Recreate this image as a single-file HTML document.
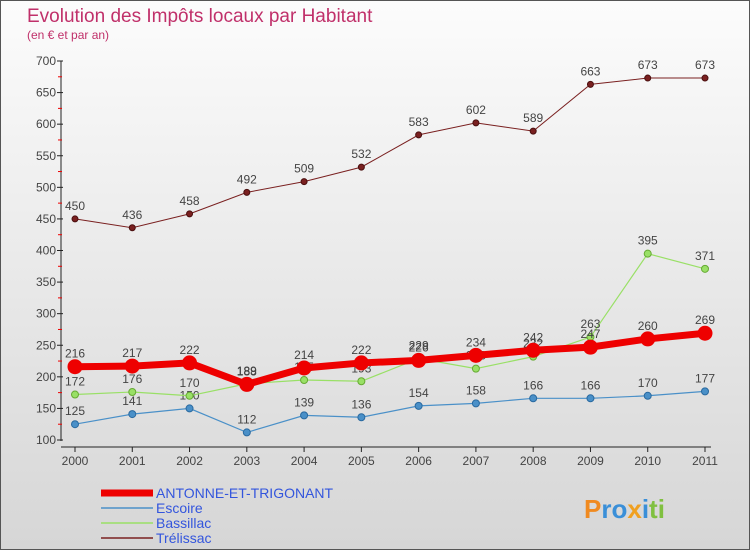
<!DOCTYPE html>
<html><head><meta charset="utf-8"><style>
body{margin:0;width:750px;height:550px;overflow:hidden;font-family:"Liberation Sans",sans-serif}
#wrap{position:relative;width:748px;height:548px;border:1px solid #555;background:linear-gradient(#fcfcfc,#d6d6d6)}
</style></head><body>
<div id="wrap">
<svg id="c" width="748" height="548">
<text x="26" y="21" font-size="19" fill="#c0306a">Evolution des Impôts locaux par Habitant</text>
<text x="26" y="38" font-size="12" fill="#c0306a">(en € et par an)</text>
</svg>
</div>
<script>
const years=[2000,2001,2002,2003,2004,2005,2006,2007,2008,2009,2010,2011];
const antonne=[216,217,222,188,214,222,226,234,242,247,260,269];
const escoire=[125,141,150,112,139,136,154,158,166,166,170,177];
const bassillac=[172,176,170,189,195,193,229,213,232,263,395,371];
const trelissac=[450,436,458,492,509,532,583,602,589,663,673,673];
const yTicks=[100,150,200,250,300,350,400,450,500,550,600,650,700];
const svg=document.getElementById('c');
const NS='http://www.w3.org/2000/svg';
const X=i=>74+i*(630/11);
const Y=v=>439-(v-100)*(379/600);
function mk(t,a,p){const e=document.createElementNS(NS,t);for(const k in a)e.setAttribute(k,a[k]);(p||svg).appendChild(e);return e;}
let ax=mk('line',{x1:60,y1:Y(700),x2:60,y2:Y(100)+1,stroke:'#222'});


yTicks.forEach((v,i)=>{
 mk('line',{x1:56,y1:Y(v),x2:62,y2:Y(v),stroke:'#222'});
 if(i<yTicks.length-1){let m=mk('line',{x1:57,y1:Y(v+25),x2:61,y2:Y(v+25),stroke:'#e00'});}
 let t=mk('text',{x:55,y:Y(v)+4,'text-anchor':'end','font-size':12,fill:'#444'});t.textContent=v;
 
 
});
let xa=mk('line',{x1:60,y1:446,x2:710,y2:446,stroke:'#222'});


years.forEach((y,i)=>{
 mk('line',{x1:X(i),y1:446,x2:X(i),y2:451,stroke:'#222'});
 let t=mk('text',{x:X(i),y:464,'text-anchor':'middle','font-size':12,fill:'#444'});t.textContent=y;
 
 
});
function series(d,color,w,r,name,dark){
 const g=mk('g',{});
 
 
 mk('polyline',{points:d.map((v,i)=>X(i)+','+Y(v)).join(' '),fill:'none',stroke:color,'stroke-width':w},g);
 d.forEach((v,i)=>{
  const c=mk('circle',{cx:X(i),cy:Y(v),r:r,fill:color,stroke:dark,'stroke-width':1},g);
  
  
  const t=mk('text',{x:X(i),y:Y(v)-9,'text-anchor':'middle','font-size':12,fill:'#444'},g);t.textContent=v;
  
  
 });
}
series(trelissac,'#7a2020',1,3,'trelissac','#4a0f0f');
series(escoire,'#4a90c8',1.2,3.5,'escoire','#2a6aa0');
series(bassillac,'#99e066',1.2,3.5,'bassillac','#66aa33');
series(antonne,'#ee0000',7,7,'antonne','#ee0000');
const leg=[['ANTONNE-ET-TRIGONANT','#ee0000',7],['Escoire','#4a90c8',1.5],['Bassillac','#99e066',1.5],['Trélissac','#7a2020',1.5]];
leg.forEach((l,i)=>{
 const y=492+i*15;
 const g=mk('g',{});
 
 
 mk('line',{x1:100,y1:y,x2:152,y2:y,stroke:l[1],'stroke-width':l[2]},g);
 const t=mk('text',{x:155,y:y+5,'font-size':14,fill:'#3355dd'},g);t.textContent=l[0];
});
const p=mk('text',{x:583,y:517,'font-size':26,'font-weight':'bold',fill:'#3a8fd8'});
p.innerHTML='<tspan fill="#f08a20">P</tspan><tspan fill="#3a8fd8">ro</tspan><tspan fill="#f0a020">x</tspan><tspan fill="#3a8fd8">i</tspan><tspan fill="#80c040">ti</tspan>';


</script>
</body></html>
